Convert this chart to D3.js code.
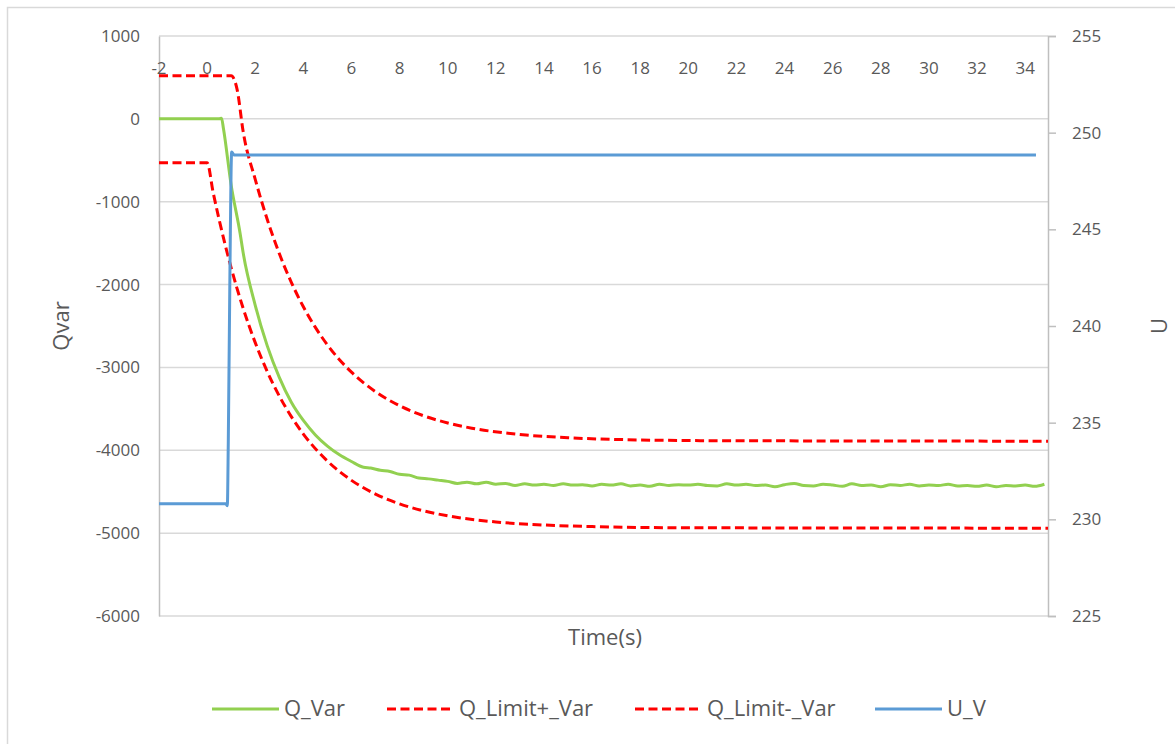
<!DOCTYPE html>
<html>
<head>
<meta charset="utf-8">
<script src="https://cdn.jsdelivr.net/npm/d3@7"></script>
<style>
  html,body{margin:0;padding:0;background:#fff;}
  svg text{font-family:"Open Sans",sans-serif;fill:#595959;}
</style>
</head>
<body>
<div id="chart"></div>
<script>
// Q response vs. voltage step
const xTicks = [-2,0,2,4,6,8,10,12,14,16,18,20,22,24,26,28,30,32,34];
const qTicks = [1000,0,-1000,-2000,-3000,-4000,-5000,-6000];
const uTicks = [255,250,245,240,235,230,225];

// [time s, Q var]
const qVar = [
  [-2,0],[0,0],[0.5,2],[0.6,8],[0.68,-120],[1.0,-800],[1.37,-1380],[1.5,-1620],[2.0,-2250],
  [2.5,-2740],[3.0,-3120],[3.5,-3420],[4.0,-3640],[4.5,-3815],[5.0,-3950],[5.5,-4055],
  [6.0,-4135],[6.5,-4205],[6.8,-4215],[7.2,-4240],[7.6,-4255],[8.0,-4290],[8.4,-4300],
  [8.8,-4335],[9.2,-4345],[9.6,-4360],[10.0,-4375],[10.4,-4400],[10.8,-4385],[11.2,-4405],
  [11.6,-4385],[12.0,-4410],[12.4,-4400],[12.8,-4425],[13.2,-4405],[13.6,-4420],[14.0,-4410],
  [14.4,-4425],[14.8,-4405],[15.2,-4420],[15.6,-4415],[16.0,-4430],[16.4,-4410],[16.8,-4420],
  [17.2,-4405],[17.6,-4430],[18.0,-4420],[18.4,-4435],[18.8,-4410],[19.2,-4425],[19.6,-4415],
  [20.0,-4420],[20.4,-4410],[20.8,-4425],[21.2,-4430],[21.6,-4405],[22.0,-4420],[22.4,-4410],
  [22.8,-4425],[23.2,-4420],[23.6,-4440],[24.0,-4415],[24.4,-4400],[24.8,-4425],[25.2,-4430],
  [25.6,-4410],[26.0,-4420],[26.4,-4435],[26.8,-4405],[27.2,-4425],[27.6,-4420],[28.0,-4440],
  [28.4,-4415],[28.8,-4425],[29.2,-4410],[29.6,-4430],[30.0,-4420],[30.4,-4425],[30.8,-4410],
  [31.2,-4430],[31.6,-4425],[32.0,-4435],[32.4,-4420],[32.8,-4440],[33.2,-4425],[33.6,-4430],
  [34.0,-4420],[34.4,-4435],[34.8,-4410]
];
const qLimitPlus = [
  [-2,520],[1.0,520],[1.25,350],[1.5,-157],[2.0,-730],[2.5,-1215],[3.0,-1626],[3.5,-1973],
  [4.0,-2268],[4.5,-2517],[5.0,-2728],[6.0,-3057],[7.0,-3293],[8.0,-3462],[9.0,-3584],
  [10.0,-3670],[11.0,-3733],[13.0,-3809],[15.0,-3849],[17.0,-3869],[21.0,-3884],[34.95,-3890]
];
const qLimitMinus = [
  [-2,-530],[0.0,-530],[0.25,-888],[0.5,-1217],[1.0,-1798],[1.5,-2288],[2.0,-2701],
  [2.5,-3050],[3.0,-3345],[3.5,-3594],[4.0,-3804],[5.0,-4130],[6.0,-4363],[7.0,-4529],
  [8.0,-4647],[9.0,-4731],[10.0,-4791],[12.0,-4865],[14.0,-4902],[16.0,-4921],[20.0,-4935],
  [34.95,-4940]
];
// [time s, U V]
const uV = [
  [-2,230.8],[0.78,230.8],[0.84,230.7],[0.88,234.0],[0.95,243.0],[1.02,249.0],[1.12,248.85],
  [34.45,248.85]
];

const series = [
  {name:'Q_Var', data:qVar, axis:'q', color:'#92d050', dash:null},
  {name:'Q_Limit+_Var', data:qLimitPlus, axis:'q', color:'#ff0000', dash:'9 4.5'},
  {name:'Q_Limit-_Var', data:qLimitMinus, axis:'q', color:'#ff0000', dash:'9 4.5'},
  {name:'U_V', data:uV, axis:'u', color:'#5b9bd5', dash:null}
];

const W = 1175, H = 744;
const P = {l:159, r:1048, t:36, b:616};
const svg = d3.select('#chart').append('svg').attr('width',W).attr('height',H);
const fmt = d => String(d);

// chart frame
svg.append('rect').attr('x',7.5).attr('y',7.5).attr('width',W+20).attr('height',H+20)
  .attr('fill','none').attr('stroke','#d9d9d9').attr('stroke-width',1.5);

const x = d3.scaleLinear().domain([-2,34.95]).range([P.l,P.r]);
const yq = d3.scaleLinear().domain([-6000,1000]).range([P.b,P.t]);
const yu = d3.scaleLinear().domain([225,255]).range([P.b,P.t]);

// gridlines (left axis)
svg.append('g').selectAll('line').data(qTicks).join('line')
  .attr('x1',P.l).attr('x2',P.r).attr('y1',d=>yq(d)).attr('y2',d=>yq(d))
  .attr('stroke','#d9d9d9').attr('stroke-width',1.5);

// left axis
const gl = svg.append('g').attr('transform',`translate(${P.l},0)`)
  .call(d3.axisLeft(yq).tickValues(qTicks).tickSize(0).tickPadding(19).tickFormat(fmt));
gl.select('.domain').attr('stroke','#bfbfbf').attr('stroke-width',1.5);
gl.selectAll('text').attr('font-size',17).style('fill','#595959').style('font-family','"Open Sans",sans-serif');

// right axis
const gr = svg.append('g').attr('transform',`translate(${P.r},0)`)
  .call(d3.axisRight(yu).tickValues(uTicks).tickSize(8).tickPadding(16).tickFormat(fmt));
gr.select('.domain').attr('stroke','#bfbfbf').attr('stroke-width',1.5);
gr.selectAll('line').attr('stroke','#bfbfbf').attr('stroke-width',1.5);
gr.selectAll('text').attr('font-size',17).style('fill','#595959').style('font-family','"Open Sans",sans-serif');

// x tick labels sit inside the plot near the top
svg.append('g').selectAll('text').data(xTicks).join('text')
  .attr('x',d=>x(d)).attr('y',74).attr('text-anchor','middle').attr('font-size',17)
  .text(fmt);

// axis titles
svg.append('text').attr('transform','translate(69,326) rotate(-90)').attr('text-anchor','middle')
  .attr('font-size',22).text('Qvar');
svg.append('text').attr('transform','translate(1167,326) rotate(-90)').attr('text-anchor','middle')
  .attr('font-size',22).text('U');
svg.append('text').attr('x',605).attr('y',645).attr('text-anchor','middle')
  .attr('font-size',22).text('Time(s)');

// lines
const plot = svg.append('g');
series.forEach(s=>{
  const yy = s.axis==='q' ? yq : yu;
  const line = d3.line().x(d=>x(d[0])).y(d=>yy(d[1])).curve(d3.curveMonotoneX);
  plot.append('path').datum(s.data).attr('d',line).attr('fill','none')
    .attr('stroke',s.color).attr('stroke-width',3).attr('stroke-linejoin','round')
    .attr('stroke-dasharray',s.dash);
});

// legend
const legX = [212, 387, 635, 875];
const lg = svg.append('g');
series.forEach((s,i)=>{
  lg.append('line').attr('x1',legX[i]).attr('x2',legX[i]+67).attr('y1',709).attr('y2',709)
    .attr('stroke',s.color).attr('stroke-width',3).attr('stroke-dasharray',s.dash);
  lg.append('text').attr('x',legX[i]+72).attr('y',716).attr('font-size',22).text(s.name);
});
</script>
</body>
</html>
